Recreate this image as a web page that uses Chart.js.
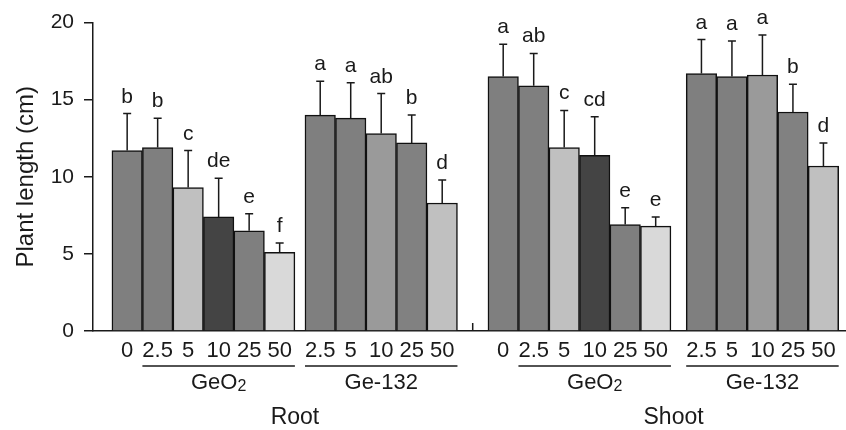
<!DOCTYPE html>
<html>
<head>
<meta charset="utf-8">
<script src="https://cdn.jsdelivr.net/npm/chart.js@4/dist/chart.umd.min.js"></script>
<style>
  html, body { margin: 0; padding: 0; background: #fff; }
  #wrap { width: 846px; height: 430px; }
</style>
</head>
<body>
<div id="wrap"><canvas id="chart" width="846" height="430"></canvas></div>
<script>
// doses (tick labels)
const geO2Doses = ['0', '2.5', '5', '10', '25', '50'];
const ge132Doses = ['2.5', '5', '10', '25', '50'];

// root values (cm)
const rootGeO2Mean = [11.7, 11.9, 9.3, 7.4, 6.5, 5.1];
const rootGeO2SD = [2.4, 1.9, 2.4, 2.5, 1.1, 0.6];
const rootGeO2Letters = ['b', 'b', 'c', 'de', 'e', 'f'];
const rootGe132Mean = [14.0, 13.8, 12.8, 12.2, 8.3];
const rootGe132SD = [2.2, 2.3, 2.6, 1.8, 1.5];
const rootGe132Letters = ['a', 'a', 'ab', 'b', 'd'];

// shoot values (cm)
const shootGeO2Mean = [16.5, 15.9, 11.9, 11.4, 6.9, 6.8];
const shootGeO2SD = [2.1, 2.1, 2.4, 2.5, 1.1, 0.6];
const shootGeO2Letters = ['a', 'ab', 'c', 'cd', 'e', 'e'];
const shootGe132Mean = [16.7, 16.5, 16.6, 14.2, 10.7];
const shootGe132SD = [2.2, 2.3, 2.6, 1.8, 1.5];
const shootGe132Letters = ['a', 'a', 'a', 'b', 'd'];

const yTicks = [0, 5, 10, 15, 20];

const geO2Colors = ['#7f7f7f', '#7f7f7f', '#c0c0c0', '#444444', '#7f7f7f', '#d9d9d9'];
const ge132Colors = ['#7f7f7f', '#7f7f7f', '#9a9a9a', '#818181', '#c0c0c0'];

const FONT = '"Liberation Sans", Arial, Helvetica, sans-serif';
const INK = '#1a1a1a';

// bar sets, gapBefore in bar widths
const sets = [
  { part: 'Root', compound: 'GeO2', doses: geO2Doses, mean: rootGeO2Mean, sd: rootGeO2SD, letters: rootGeO2Letters, colors: geO2Colors, gapBefore: 0.62, lineFrom: 1 },
  { part: 'Root', compound: 'Ge-132', doses: ge132Doses, mean: rootGe132Mean, sd: rootGe132SD, letters: rootGe132Letters, colors: ge132Colors, gapBefore: 0.33, lineFrom: 0 },
  { part: 'Shoot', compound: 'GeO2', doses: geO2Doses, mean: shootGeO2Mean, sd: shootGeO2SD, letters: shootGeO2Letters, colors: geO2Colors, gapBefore: 1.0, lineFrom: 1 },
  { part: 'Shoot', compound: 'Ge-132', doses: ge132Doses, mean: shootGe132Mean, sd: shootGe132SD, letters: shootGe132Letters, colors: ge132Colors, gapBefore: 0.5, lineFrom: 0 }
];

let cursor = 0;
const separators = [];
sets.forEach((s, k) => {
  if (k === 2) separators.push(cursor + s.gapBefore / 2);
  cursor += s.gapBefore;
  s.xs = s.doses.map((_, i) => cursor + i + 0.5);
  cursor += s.doses.length;
});
const X_MAX = 24.69;

const datasets = sets.map(s => ({
  label: s.part + ' ' + s.compound,
  data: s.mean.map((v, i) => ({ x: s.xs[i], y: v })),
  backgroundColor: s.colors,
  borderColor: '#111',
  borderWidth: 1.5,
  borderSkipped: 'bottom',
  barPercentage: 1,
  categoryPercentage: 1
}));

const extras = {
  id: 'extras',
  afterDatasetsDraw(chart) {
    const ctx = chart.ctx;
    const x = chart.scales.x, y = chart.scales.y;
    const base = y.getPixelForValue(0);
    ctx.save();
    ctx.strokeStyle = INK;
    ctx.fillStyle = INK;
    ctx.lineWidth = 1.5;

    sets.forEach((s, k) => {
      const meta = chart.getDatasetMeta(k);
      meta.data.forEach((bar, i) => {
        const top = y.getPixelForValue(s.mean[i] + s.sd[i]);
        ctx.beginPath();
        ctx.moveTo(bar.x, bar.y);
        ctx.lineTo(bar.x, top);
        ctx.moveTo(bar.x - 4, top);
        ctx.lineTo(bar.x + 4, top);
        ctx.stroke();
        ctx.font = '21px ' + FONT;
        ctx.textAlign = 'center';
        ctx.textBaseline = 'alphabetic';
        ctx.fillText(s.letters[i], bar.x, top - 11);

        ctx.font = '22px ' + FONT;
        ctx.textBaseline = 'middle';
        ctx.fillText(s.doses[i], bar.x, 351);
      });

      // compound underline and label
      const first = meta.data[s.lineFrom], last = meta.data[meta.data.length - 1];
      const x0 = first.x - first.width / 2, x1 = last.x + last.width / 2;
      ctx.beginPath();
      ctx.moveTo(x0, 366);
      ctx.lineTo(x1, 366);
      ctx.stroke();
      const cx = (x0 + x1) / 2;
      ctx.textBaseline = 'middle';
      if (s.compound === 'GeO2') {
        ctx.font = '22px ' + FONT;
        const w1 = ctx.measureText('GeO').width;
        ctx.font = '16px ' + FONT;
        const w2 = ctx.measureText('2').width;
        const left = cx - (w1 + w2) / 2;
        ctx.textAlign = 'left';
        ctx.font = '22px ' + FONT;
        ctx.fillText('GeO', left, 383);
        ctx.font = '16px ' + FONT;
        ctx.fillText('2', left + w1, 387);
      } else {
        ctx.textAlign = 'center';
        ctx.font = '22px ' + FONT;
        ctx.fillText(s.compound, cx, 383);
      }
      s.lineSpan = [x0, x1];
    });

    // Root / Shoot labels
    ctx.font = '23px ' + FONT;
    ctx.textAlign = 'center';
    ctx.textBaseline = 'middle';
    ['Root', 'Shoot'].forEach(part => {
      const ps = sets.filter(s => s.part === part);
      const cx = (ps[0].lineSpan[0] + ps[ps.length - 1].lineSpan[1]) / 2 - 5;
      ctx.fillText(part, cx, 418);
    });

    // separator tick between root and shoot
    separators.forEach(v => {
      const px = x.getPixelForValue(v);
      ctx.beginPath();
      ctx.moveTo(px, base);
      ctx.lineTo(px, base - 8);
      ctx.stroke();
    });
    ctx.restore();
  }
};

new Chart(document.getElementById('chart'), {
  type: 'bar',
  data: { datasets },
  options: {
    responsive: false,
    animation: false,
    grouped: false,
    layout: { padding: { left: 0, right: 0, top: 20, bottom: 99 } },
    plugins: { legend: { display: false }, tooltip: { enabled: false } },
    scales: {
      x: {
        type: 'linear',
        offset: false,
        min: 0,
        max: X_MAX,
        ticks: { display: false, stepSize: 1 },
        grid: { display: false, drawTicks: false },
        border: { display: true, color: INK, width: 1.5 }
      },
      y: {
        min: 0,
        max: 20,
        afterBuildTicks: axis => { axis.ticks = yTicks.map(v => ({ value: v })); },
        afterFit: axis => { axis.width = 93; },
        ticks: { color: INK, font: { family: FONT, size: 21 }, padding: 10 },
        grid: { drawOnChartArea: false, drawTicks: true, tickLength: 9, color: INK, lineWidth: 1.5 },
        border: { display: true, color: INK, width: 1.5 },
        title: { display: true, text: 'Plant length (cm)', color: INK, font: { family: FONT, size: 24 }, padding: { top: 12, bottom: 0 } }
      }
    }
  },
  plugins: [extras]
});
</script>
</body>
</html>
